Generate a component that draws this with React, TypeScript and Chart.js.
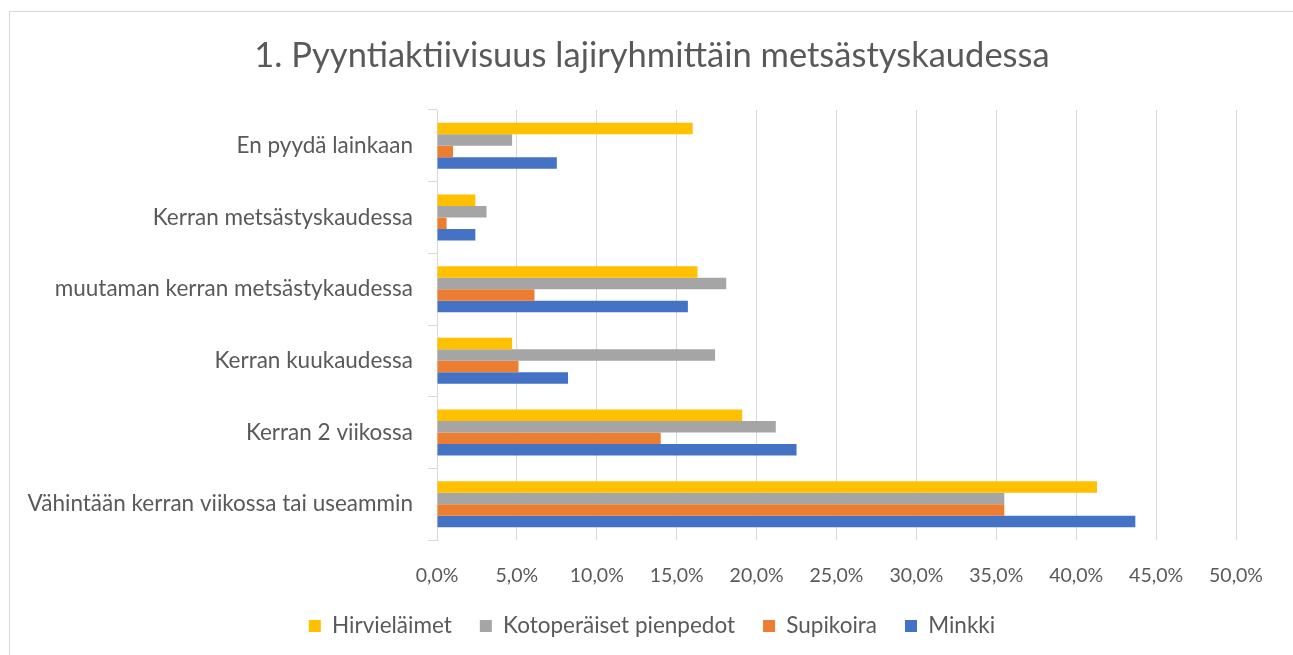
import React, { useEffect, useRef } from "react";
import { Chart, registerables } from "chart.js";

Chart.register(...registerables);

const categories = [
  "En pyydä lainkaan",
  "Kerran metsästyskaudessa",
  "muutaman kerran metsästykaudessa",
  "Kerran kuukaudessa",
  "Kerran 2 viikossa",
  "Vähintään kerran viikossa tai useammin",
];
const seriesNames = ["Hirvieläimet", "Kotoperäiset pienpedot", "Supikoira", "Minkki"];
const hirvielaimet = [16.0, 2.4, 16.3, 4.7, 19.1, 41.3];
const kotoperaiset = [4.7, 3.1, 18.1, 17.4, 21.2, 35.5];
const supikoira = [1.0, 0.6, 6.1, 5.1, 14.0, 35.5];
const minkki = [7.5, 2.4, 15.7, 8.2, 22.5, 43.7];
const xTickValues = [0, 5, 10, 15, 20, 25, 30, 35, 40, 45, 50];
const titleText = "1. Pyyntiaktiivisuus lajiryhmittäin metsästyskaudessa";

const colors = ["#FFC000", "#A5A5A5", "#ED7D31", "#4472C4"];
const textColor = "#595959";
const gridColor = "#D9D9D9";
const FONT = "Lato, 'Open Sans', sans-serif";

export default function App() {
  const canvasRef = useRef<HTMLCanvasElement | null>(null);

  useEffect(() => {
    if (!canvasRef.current) return;
    const seriesData = [hirvielaimet, kotoperaiset, supikoira, minkki];
    const chart = new Chart(canvasRef.current, {
      type: "bar",
      data: {
        labels: categories,
        datasets: seriesNames.map((name, i) => ({
          label: name,
          data: seriesData[i],
          backgroundColor: colors[i],
          borderWidth: 0,
          categoryPercentage: 0.642,
          barPercentage: 1.0,
        })),
      },
      options: {
        indexAxis: "y",
        animation: false,
        responsive: false,
        maintainAspectRatio: false,
        layout: { padding: { left: 11, right: 0, top: 0, bottom: 7.75 } },
        plugins: {
          title: {
            display: true,
            text: titleText,
            color: textColor,
            font: { family: FONT, size: 34.5, weight: "normal", lineHeight: 1.2 },
            padding: { top: 35.3, bottom: 33.3 },
          },
          legend: {
            display: true,
            position: "bottom",
            labels: {
              color: textColor,
              font: { family: FONT, size: 22.5 },
              boxWidth: 12,
              boxHeight: 12,
              padding: 28,
            },
          },
          tooltip: { enabled: false },
        },
        scales: {
          x: {
            type: "linear",
            min: 0,
            max: 50,
            afterBuildTicks: (s: any) => {
              s.ticks = xTickValues.map((v) => ({ value: v }));
            },
            ticks: {
              color: textColor,
              font: { family: FONT, size: 19.5 },
              padding: 24,
              callback: (v: any) => Number(v).toFixed(1).replace(".", ",") + "%",
            },
            grid: { color: gridColor, lineWidth: 1, drawTicks: false },
            border: { display: false },
            afterFit: (s: any) => {
              s.height = 46.75;
            },
          },
          y: {
            type: "category",
            ticks: {
              color: textColor,
              font: { family: FONT, size: 22.5 },
              padding: 15,
            },
            grid: {
              display: true,
              drawOnChartArea: false,
              drawTicks: true,
              tickLength: 9,
              color: gridColor,
            },
            border: { display: true, color: gridColor },
            afterFit: (s: any) => {
              s.width = 426;
            },
          },
          yRight: {
            type: "linear",
            position: "right",
            display: true,
            grid: { display: false },
            ticks: { display: false },
            border: { display: false },
            afterFit: (s: any) => {
              s.width = 57;
            },
          },
        },
      },
    });
    return () => chart.destroy();
  }, []);

  return (
    <div
      style={{
        position: "fixed",
        left: 0,
        top: 0,
        width: 1293,
        height: 655,
        overflow: "hidden",
        background: "#ffffff",
      }}
    >
      <div
        style={{
          position: "absolute",
          left: 9,
          top: 11,
          width: 1320,
          height: 700,
          border: "1px solid #D9D9D9",
          boxSizing: "border-box",
        }}
      />
      <canvas
        ref={canvasRef}
        width={1293}
        height={655}
        style={{ position: "absolute", left: 0, top: 0, width: 1293, height: 655 }}
      />
    </div>
  );
}
